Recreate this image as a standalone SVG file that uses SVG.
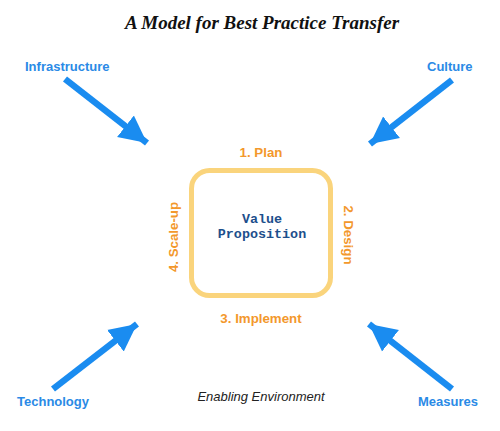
<svg xmlns="http://www.w3.org/2000/svg" width="500" height="431" viewBox="0 0 500 431">
<style>
.lbl{font-family:"Liberation Sans",Arial,sans-serif;font-weight:bold;font-size:13px;fill:#2a8ae6}
.step{font-family:"Liberation Sans",Arial,sans-serif;font-weight:bold;font-size:13.3px;fill:#f3982c;text-anchor:middle}
.arr{stroke:#1a8cf0;stroke-width:6.5;fill:none}
.vp{font-family:"Liberation Mono","Courier New",monospace;font-weight:bold;font-size:13.4px;fill:#1d4f8c;text-anchor:middle}
</style>
<defs>
<marker id="ah" viewBox="0 0 10 10" refX="10" refY="5" markerWidth="4.2" markerHeight="4.4" orient="auto" markerUnits="strokeWidth">
<path d="M0,0 L10,5 L0,10 Z" fill="#1a8cf0"/>
</marker>
</defs>
<text x="262" y="29" text-anchor="middle" font-family="'Liberation Serif','Times New Roman',serif" font-weight="bold" font-style="italic" font-size="19" fill="#111">A Model for Best Practice Transfer</text>
<g id="connectors">
<line class="arr" x1="65" y1="79" x2="147" y2="143" marker-end="url(#ah)"/>
<line class="arr" x1="452" y1="80" x2="370" y2="144" marker-end="url(#ah)"/>
<line class="arr" x1="53" y1="389" x2="137" y2="324" marker-end="url(#ah)"/>
<line class="arr" x1="452" y1="389" x2="369" y2="324" marker-end="url(#ah)"/>
</g>
<g id="infrastructure"><text class="lbl" x="25" y="71">Infrastructure</text></g>
<g id="culture"><text class="lbl" x="427" y="71">Culture</text></g>
<g id="technology"><text class="lbl" x="17" y="406">Technology</text></g>
<g id="measures"><text class="lbl" x="418" y="406">Measures</text></g>
<g id="value-proposition">
<rect x="191.5" y="170.5" width="139" height="125" rx="18" fill="#fff" stroke="#fad47c" stroke-width="5"/>
<text class="vp" x="262" y="223">Value</text>
<text class="vp" x="262" y="238">Proposition</text>
</g>
<g id="plan"><text class="step" x="261" y="157">1. Plan</text></g>
<g id="design"><text class="step" transform="translate(344,235) rotate(90)">2. Design</text></g>
<g id="implement"><text class="step" x="261" y="323">3. Implement</text></g>
<g id="scaleup"><text class="step" transform="translate(178,237) rotate(-90)">4. Scale-up</text></g>
<g id="enabling"><text x="261" y="401" text-anchor="middle" font-family="'Liberation Sans',Arial,sans-serif" font-style="italic" font-size="13" fill="#222">Enabling Environment</text></g>
</svg>
